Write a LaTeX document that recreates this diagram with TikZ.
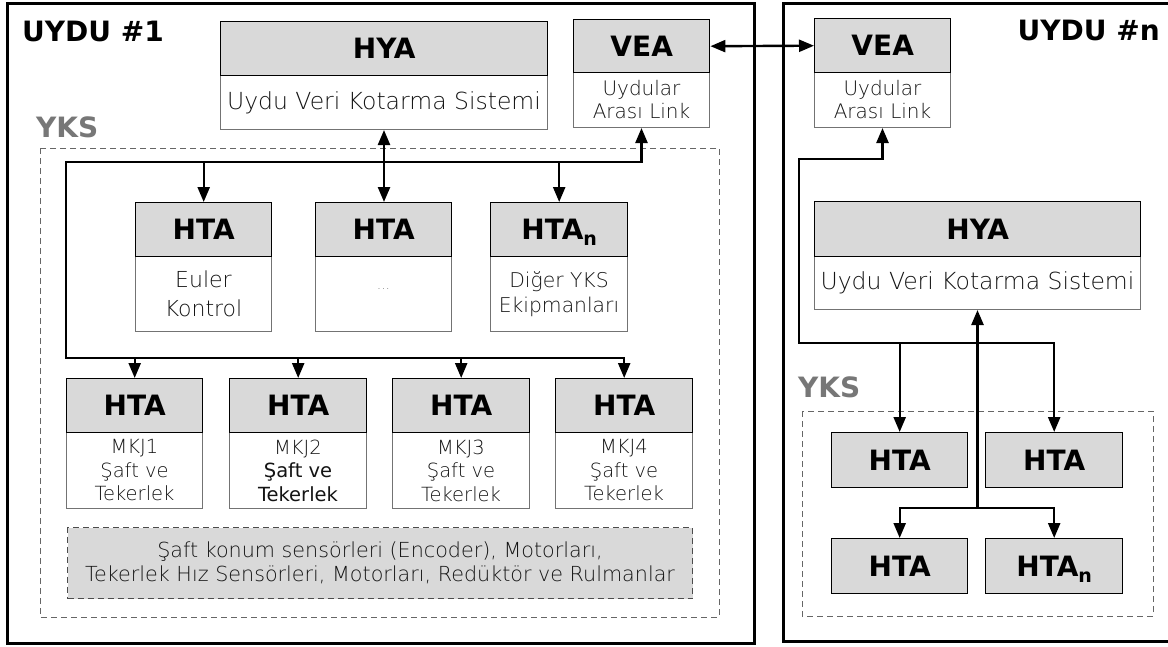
\documentclass[tikz,border=0pt]{standalone}
\usepackage{fontspec}
\setmainfont{DejaVu Sans}
\newfontfamily\lightfont{DejaVuSans-ExtraLight.ttf}
\usetikzlibrary{arrows.meta}
\definecolor{hdrgray}{HTML}{D9D9D9}
\definecolor{zonegray}{HTML}{777777}

% two-part unit: grey title on top of a white description box
% #1 name, #2 left x, #3 top y, #4 width, #5 title height, #6 body height, #7 title,
% #8 body font, #9 body text
\newcommand\unitbox[9]{%
  \node[body, minimum width=#4pt, minimum height=#6pt, font=#8] (#1b) at (#2,{#3+#5}) {#9};
  \node[hdr, minimum width=#4pt, minimum height=#5pt] (#1) at (#2,#3) {#7};}
\newcommand\subn{\raisebox{-6pt}[0pt][0pt]{\fontsize{19}{19}\selectfont n}}

\begin{document}
\begin{tikzpicture}[x=1pt,y=-1pt,
  frame/.style={draw=black, line width=3pt},
  zone/.style={draw=black!60, dash pattern=on 6pt off 4pt, line width=1pt},
  zonelabel/.style={anchor=base west, text=zonegray, font=\bfseries\fontsize{28}{30}\selectfont, inner sep=0pt},
  sattitle/.style={font=\bfseries\fontsize{28}{30}\selectfont, inner sep=0pt},
  hdr/.style={draw=black, line width=1.4pt, fill=hdrgray, font=\bfseries\fontsize{28}{30}\selectfont,
    inner sep=0pt, anchor=north west},
  body/.style={draw=black!55, line width=1pt, fill=white, align=center, inner sep=0pt,
    anchor=north west, text=black!92},
  link/.style={line width=2.4pt, arrows={-Triangle[length=15pt,width=12pt]}},
  link2/.style={line width=2.4pt, arrows={Triangle[length=15pt,width=12pt]-Triangle[length=15pt,width=12pt]}},
  linkin/.style={line width=2.4pt, arrows={Triangle[length=15pt,width=12pt]-}}
]
\useasboundingbox (0,0) rectangle (1168,646);
\fill[white] (0,0) rectangle (1168,646);

% satellite frames
\draw[frame] (7,3) rectangle (754,643);
\draw[frame] (783,3) rectangle (1172,641);
\node[sattitle, anchor=base west] (sat1) at (22,41) {UYDU \#1};
\node[sattitle, anchor=base east] (satn) at (1160,40) {UYDU \#n};

% attitude control zones
\draw[zone] (40,148) rectangle (719,617);
\node[zonelabel] (yks1) at (36,137) {YKS};
\draw[zone] (802,411) rectangle (1153,616);
\node[zonelabel] (yksn) at (798,397) {YKS};

% ---------- satellite 1 ----------
\unitbox{hya1}{220}{21}{327}{54}{54}{HYA}{\lightfont\fontsize{23.5}{26}\selectfont}{Uydu Veri Kotarma Sistemi}
\unitbox{vea1}{573}{19}{136}{53}{55}{VEA}{\lightfont\fontsize{20}{23}\selectfont}{Uydular\\Arası Link}

\unitbox{hta1}{135}{202}{136}{54}{75}{HTA}{\lightfont\fontsize{22}{28.5}\selectfont}{Euler\\Kontrol}
\unitbox{hta2}{315}{202}{136}{54}{75}{HTA}{\lightfont\fontsize{14}{14}\selectfont}{\raisebox{10pt}{\color{black!60}...}}
\unitbox{hta3}{490}{202}{137}{54}{75}{HTA\subn}{\lightfont\fontsize{20.3}{25}\selectfont}{Diğer YKS\\Ekipmanları}

\unitbox{mkj1}{66}{378}{136}{54}{76}{HTA}{\lightfont\fontsize{19.5}{23.5}\selectfont}{MKJ1\\Şaft ve\\Tekerlek}
\unitbox{mkj2}{229}{378}{137}{54}{76}{HTA}{\fontsize{19.5}{23.5}\selectfont}{{\lightfont MKJ2}\\Şaft ve\\Tekerlek}
\unitbox{mkj3}{392}{378}{137}{54}{76}{HTA}{\lightfont\fontsize{19.5}{23.5}\selectfont}{MKJ3\\Şaft ve\\Tekerlek}
\unitbox{mkj4}{555}{378}{137}{54}{76}{HTA}{\lightfont\fontsize{19.5}{23.5}\selectfont}{MKJ4\\Şaft ve\\Tekerlek}

\node[draw=black!70, dash pattern=on 6pt off 4pt, line width=1pt, fill=hdrgray, anchor=north west,
  minimum width=625pt, minimum height=71pt, inner sep=0pt, align=center, text=black!92,
  font=\lightfont\fontsize{20.7}{24}\selectfont] (parts) at (67,527)
  {Şaft konum sensörleri (Encoder), Motorları,\\Tekerlek Hız Sensörleri, Motorları, Redüktör ve Rulmanlar};

% ---------- satellite n ----------
\unitbox{vean}{814}{18}{136}{54}{55}{VEA}{\lightfont\fontsize{20}{23}\selectfont}{Uydular\\Arası Link}
\unitbox{hyan}{814}{201}{326}{55}{53}{HYA}{\lightfont\fontsize{23.5}{26}\selectfont}{Uydu Veri Kotarma Sistemi}

\node[hdr, minimum width=136pt, minimum height=55pt] (r11) at (831,432) {HTA};
\node[hdr, minimum width=137pt, minimum height=55pt] (r12) at (985,432) {HTA};
\node[hdr, minimum width=136pt, minimum height=55pt] (r21) at (831,538) {HTA};
\node[hdr, minimum width=137pt, minimum height=55pt] (r22) at (985,538) {HTA\subn};

% ---------- connectors ----------
\coordinate (topbus) at (0,162);
\coordinate (lowbus) at (0,358);
\coordinate (leftbus) at (66,0);

\draw[link2] (vea1.east) -- (vean.west);
\draw[link2] (hya1b.south) -- (hya1b.south |- hta2.north);
\draw[link2] (vea1b.south) -- (vea1b.south |- topbus) -- (leftbus |- topbus)
  -- (leftbus |- lowbus) -- (mkj4.north |- lowbus) -- (mkj4.north);
\draw[link] (hta1.north |- topbus) -- (hta1.north);
\draw[link] (hta3.north |- topbus) -- (hta3.north);
\draw[link] (mkj1.north |- lowbus) -- (mkj1.north);
\draw[link] (mkj2.north |- lowbus) -- (mkj2.north);
\draw[link] (mkj3.north |- lowbus) -- (mkj3.north);

\coordinate (rtop) at (0,159);
\coordinate (rmid) at (0,343);
\coordinate (rleft) at (799,0);
\coordinate (rlow) at (0,508);

\draw[link2] (veanb.south) -- (veanb.south |- rtop) -- (rleft |- rtop)
  -- (rleft |- rmid) -- (r12.north |- rmid) -- (r12.north);
\draw[link] (r11.north |- rmid) -- (r11.north);
\draw[linkin] (hyanb.south) -- (hyanb.south |- rlow);
\draw[link2] (r21.north) -- (r21.north |- rlow) -- (r22.north |- rlow) -- (r22.north);
\end{tikzpicture}
\end{document}
